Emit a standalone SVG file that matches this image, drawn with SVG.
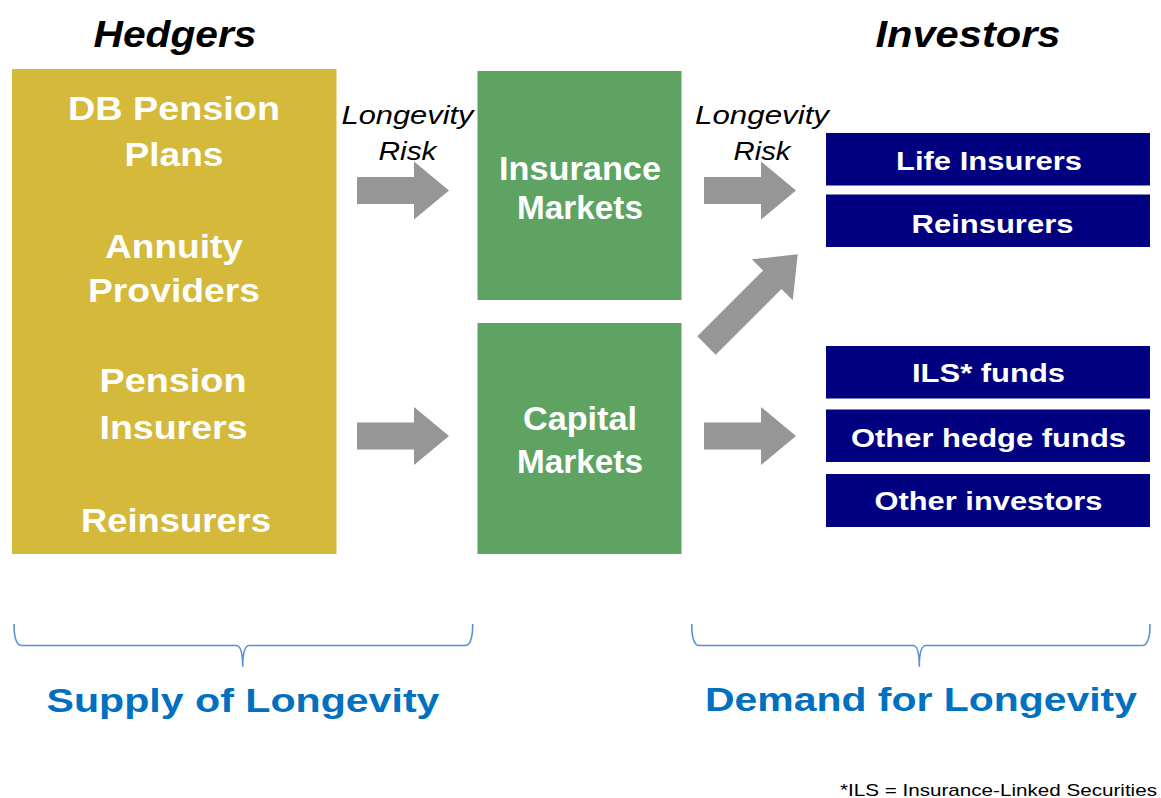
<svg xmlns="http://www.w3.org/2000/svg" width="1161" height="798" viewBox="0 0 1161 798">
<style>
.hd{font-family:"Liberation Sans",Arial,sans-serif;font-weight:bold;font-style:italic;font-size:37px;fill:#000;text-anchor:middle}
.gt{font-family:"Liberation Sans",Arial,sans-serif;font-weight:bold;font-size:33px;fill:#fff;text-anchor:middle}
.nt{font-family:"Liberation Sans",Arial,sans-serif;font-weight:bold;font-size:26px;fill:#fff;text-anchor:middle}
.lr{font-family:"Liberation Sans",Arial,sans-serif;font-style:italic;font-size:26px;fill:#000;text-anchor:middle}
.bt{font-family:"Liberation Sans",Arial,sans-serif;font-weight:bold;font-size:33px;fill:#0070C0;text-anchor:middle}
.fn{font-family:"Liberation Sans",Arial,sans-serif;font-size:17px;fill:#000}
.gold{fill:#D4B93B}
.green{fill:#5EA362}
.navy{fill:#000080}
.arrow{fill:#969696}
.brace{fill:none;stroke:#5B8ED6;stroke-width:1.6}
</style>
<defs>
<path id="arr" d="M0,-13.5 L57,-13.5 L57,-29 L92,0 L57,29 L57,13.5 L0,13.5 Z"/>
<path id="arrd" d="M0,-13 L93,-13 L93,-29 L129,0 L93,29 L93,13 L0,13 Z"/>
</defs>
<rect width="1161" height="798" fill="#fff"/>

<text class="hd" x="175" y="47" textLength="163" lengthAdjust="spacingAndGlyphs">Hedgers</text>
<text class="hd" x="968" y="47" textLength="185" lengthAdjust="spacingAndGlyphs">Investors</text>

<g id="hedgers">
<rect class="gold" x="12" y="69" width="324.5" height="485"/>
<text class="gt" x="174" y="120" textLength="212" lengthAdjust="spacingAndGlyphs">DB Pension</text>
<text class="gt" x="174" y="166" textLength="99" lengthAdjust="spacingAndGlyphs">Plans</text>
<text class="gt" x="174" y="257.5" textLength="138" lengthAdjust="spacingAndGlyphs">Annuity</text>
<text class="gt" x="174" y="301.5" textLength="172" lengthAdjust="spacingAndGlyphs">Providers</text>
<text class="gt" x="173" y="391.5" textLength="147" lengthAdjust="spacingAndGlyphs">Pension</text>
<text class="gt" x="173.5" y="438.5" textLength="148" lengthAdjust="spacingAndGlyphs">Insurers</text>
<text class="gt" x="176" y="531.5" textLength="190" lengthAdjust="spacingAndGlyphs">Reinsurers</text>
</g>

<g id="insurance-markets">
<rect class="green" x="477.5" y="71" width="204" height="229"/>
<text class="gt" x="580" y="179.5" textLength="162" lengthAdjust="spacingAndGlyphs">Insurance</text>
<text class="gt" x="580" y="218.5" textLength="126" lengthAdjust="spacingAndGlyphs">Markets</text>
</g>

<g id="capital-markets">
<rect class="green" x="477.5" y="323" width="204" height="231"/>
<text class="gt" x="580" y="429.5" textLength="114" lengthAdjust="spacingAndGlyphs">Capital</text>
<text class="gt" x="580" y="472.5" textLength="126" lengthAdjust="spacingAndGlyphs">Markets</text>
</g>

<g id="life-insurers">
<rect class="navy" x="826" y="133" width="324" height="52.5"/>
<text class="nt" x="989" y="170" textLength="186" lengthAdjust="spacingAndGlyphs">Life Insurers</text>
</g>
<g id="reinsurers">
<rect class="navy" x="826" y="194.5" width="324" height="52.5"/>
<text class="nt" x="992.5" y="232.5" textLength="162" lengthAdjust="spacingAndGlyphs">Reinsurers</text>
</g>
<g id="ils-funds">
<rect class="navy" x="826" y="346" width="324" height="52.5"/>
<text class="nt" x="988.5" y="381.5" textLength="153" lengthAdjust="spacingAndGlyphs">ILS* funds</text>
</g>
<g id="other-hedge-funds">
<rect class="navy" x="826" y="409.5" width="324" height="52.5"/>
<text class="nt" x="988.5" y="446.5" textLength="275" lengthAdjust="spacingAndGlyphs">Other hedge funds</text>
</g>
<g id="other-investors">
<rect class="navy" x="826" y="474" width="324" height="53"/>
<text class="nt" x="988.5" y="510" textLength="228" lengthAdjust="spacingAndGlyphs">Other investors</text>
</g>

<g id="connectors">
<use href="#arr" class="arrow" transform="translate(357,190.5)"/>
<use href="#arr" class="arrow" transform="translate(704,190.5)"/>
<use href="#arr" class="arrow" transform="translate(357,436)"/>
<use href="#arr" class="arrow" transform="translate(704,436)"/>
<use href="#arrd" class="arrow" transform="translate(706.5,345.5) rotate(-45)"/>
<text class="lr" x="407.5" y="124" textLength="132" lengthAdjust="spacingAndGlyphs">Longevity</text>
<text class="lr" x="407.5" y="160" textLength="58" lengthAdjust="spacingAndGlyphs">Risk</text>
<text class="lr" x="762" y="124" textLength="134" lengthAdjust="spacingAndGlyphs">Longevity</text>
<text class="lr" x="762" y="160" textLength="57" lengthAdjust="spacingAndGlyphs">Risk</text>
</g>

<g id="supply-brace">
<path class="brace" d="M14,624 Q14,645.5 22,645.5 L236,645.5 Q242.7,645.5 242.7,666.7 Q242.7,645.5 249.5,645.5 L465,645.5 Q472.7,645.5 472.7,624"/>
<text class="bt" x="243" y="712" textLength="393" lengthAdjust="spacingAndGlyphs">Supply of Longevity</text>
</g>
<g id="demand-brace">
<path class="brace" d="M691.7,624 Q691.7,645.5 699.5,645.5 L913,645.5 Q919.3,645.5 919.3,666.7 Q919.3,645.5 926,645.5 L1142,645.5 Q1150,645.5 1150,624"/>
<text class="bt" x="921" y="711" textLength="432" lengthAdjust="spacingAndGlyphs">Demand for Longevity</text>
</g>

<text class="fn" x="840" y="796" textLength="317" lengthAdjust="spacingAndGlyphs">*ILS = Insurance-Linked Securities</text>
</svg>
